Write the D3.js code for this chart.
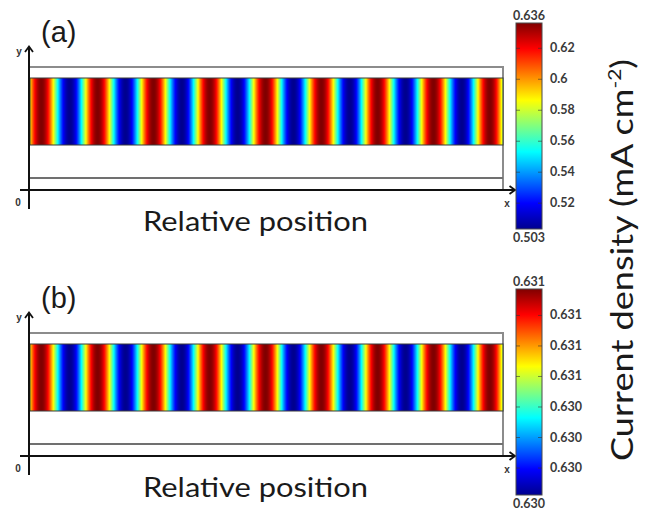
<!DOCTYPE html>
<html><head><meta charset="utf-8">
<script src="https://cdn.jsdelivr.net/npm/d3@7"></script>
<style>body{margin:0;background:#fff} svg{display:block}</style>
</head><body><svg id="chart" width="652" height="512"></svg>
<script>
// ---------------- data ----------------
const panelLabels = ["(a)", "(b)"];
// relative positions (0..1 along the strip) of current-density maxima and minima
const peakPositions   = [0.024, 0.143, 0.261, 0.380, 0.498, 0.616, 0.735, 0.853, 0.972];
const troughPositions = [-0.035, 0.084, 0.202, 0.321, 0.439, 0.557, 0.676, 0.794, 0.913, 1.031];
// colour-bar ranges (mA cm^-2)
const densityRangeA = [0.503, 0.636];
const densityRangeB = [0.62982, 0.63117];
const colorbarTicksA = [0.52, 0.54, 0.56, 0.58, 0.60, 0.62];
const colorbarTicksB = [0.6300, 0.6302, 0.6304, 0.6306, 0.6308, 0.6310];
const xAxisTitle = "Relative position";
const colorbarTitle = "Current density (mA cm";
const colorbarTitleSup = "-2";
// jet colour map stops
const jetStops  = [0, 0.125, 0.375, 0.625, 0.875, 1];
const jetColors = ["#00008f", "#0000ff", "#00ffff", "#ffff00", "#ff0000", "#800000"];

// ---------------- drawing ----------------
const svg = d3.select("#chart");
const jet = d3.scaleLinear().domain(jetStops).range(jetColors).interpolate(d3.interpolateRgb).clamp(true);

const extrema = peakPositions.map(p => ({p, v: 1}))
  .concat(troughPositions.map(p => ({p, v: 0})))
  .sort((a, b) => a.p - b.p);

function fracAt(p) {
  let i = 0;
  while (i < extrema.length - 2 && extrema[i + 1].p <= p) i++;
  const a = extrema[i], b = extrema[i + 1];
  const t = (p - a.p) / (b.p - a.p);
  return a.v + (b.v - a.v) * (1 - Math.cos(Math.PI * t)) / 2;
}

const defs = svg.append("defs");
const grad = defs.append("linearGradient").attr("id", "jetGrad")
  .attr("x1", 0).attr("y1", 1).attr("x2", 0).attr("y2", 0);
grad.selectAll("stop").data(jetStops).join("stop")
  .attr("offset", d => d).attr("stop-color", (d, i) => jetColors[i]);

const x = d3.scaleLinear().domain([0, 1]).range([30, 503]);

function drawPanel(idx, range, ticks, fmtTick, dy) {
  const g = svg.append("g").attr("transform", `translate(0,${dy})`);
  const val = d3.scaleLinear().domain([0, 1]).range(range);
  const colorScale = d3.scaleLinear().domain(range).range([0, 1]);

  // geometry outline
  g.append("path").attr("d", `M${x(0)},67 H${x(1)} V190`)
    .attr("fill", "none").attr("stroke", "#8c8c8c").attr("stroke-width", 2);
  g.append("line").attr("x1", x(0)).attr("x2", x(1)).attr("y1", 178).attr("y2", 178)
    .attr("stroke", "#707070").attr("stroke-width", 2);

  // coloured strip
  const cols = d3.range(Math.round(x(1) - x(0)));
  const n = cols.length;
  g.append("g").attr("shape-rendering", "crispEdges").selectAll("rect").data(cols).join("rect")
    .attr("x", i => x(0) + i).attr("y", 78).attr("width", 1.2).attr("height", 67)
    .attr("fill", i => jet(colorScale(val(fracAt((i + 0.5) / n)))));
  g.append("rect").attr("x", x(0)).attr("y", 78).attr("width", x(1) - x(0)).attr("height", 67)
    .attr("fill", "none").attr("stroke", "#3a3a3a").attr("stroke-width", 1);

  // axes
  g.append("line").attr("x1", 29).attr("x2", 29).attr("y1", 47).attr("y2", 209)
    .attr("stroke", "#111").attr("stroke-width", 2);
  g.append("path").attr("d", "M25,52 L29,46.5 L33,52").attr("fill", "none")
    .attr("stroke", "#111").attr("stroke-width", 1.8);
  g.append("line").attr("x1", 20).attr("x2", 515).attr("y1", 190).attr("y2", 190)
    .attr("stroke", "#111").attr("stroke-width", 2);
  g.append("path").attr("d", "M509.5,186 L515,190 L509.5,194").attr("fill", "none")
    .attr("stroke", "#111").attr("stroke-width", 1.8);
  const small = {"font-family": "Liberation Sans, Arial, sans-serif", "font-size": "10px", "font-weight": "bold", "fill": "#333"};
  [["y", 19, 55], ["0", 18, 206], ["x", 507, 207]].forEach(([t, tx, ty]) => {
    const s = g.append("text").attr("x", tx).attr("y", ty).attr("text-anchor", "middle").text(t);
    Object.entries(small).forEach(([k, v]) => s.style(k, v));
  });

  // panel label
  g.append("text").attr("x", 41).attr("y", 42).text(panelLabels[idx])
    .style("font-family", "Liberation Sans, Arial, sans-serif").style("font-size", "29px").style("fill", "#1a1a1a");

  // x title
  g.append("text").attr("x", 255.5).attr("y", 231).attr("text-anchor", "middle")
    .attr("textLength", 225).attr("lengthAdjust", "spacingAndGlyphs")
    .text(xAxisTitle)
    .style("font-family", "Lato, 'Open Sans', sans-serif").style("font-size", "26px").style("fill", "#1a1a1a");

  // colour bar
  const cb = d3.scaleLinear().domain(range).range([229, 23]);
  g.append("rect").attr("x", 516).attr("y", 23).attr("width", 26).attr("height", 206)
    .attr("fill", "url(#jetGrad)").attr("stroke", "#4a4a4a").attr("stroke-width", 1);
  const axR = g.append("g").attr("transform", "translate(542,0)")
    .call(d3.axisRight(cb).tickValues(ticks).tickSizeInner(-4).tickSizeOuter(0).tickPadding(8).tickFormat(fmtTick));
  axR.select(".domain").remove();
  axR.selectAll(".tick line").attr("stroke", "#333").attr("stroke-opacity", 0.6);
  axR.selectAll(".tick text").style("font-family", "Lato, 'Open Sans', sans-serif")
    .style("font-size", "12.5px").style("font-weight", "bold").style("fill", "#3a3a3a");
  const axL = g.append("g").attr("transform", "translate(516,0)")
    .call(d3.axisLeft(cb).tickValues(ticks).tickSizeInner(-4).tickSizeOuter(0).tickFormat(""));
  axL.select(".domain").remove();
  axL.selectAll(".tick line").attr("stroke", "#333").attr("stroke-opacity", 0.6);
  const f3 = d3.format(".3f");
  [[range[1], 19.5], [range[0], 242]].forEach(([v, ty]) => {
    g.append("text").attr("x", 529).attr("y", ty).attr("text-anchor", "middle").text(f3(v))
      .style("font-family", "Lato, 'Open Sans', sans-serif").style("font-size", "12.5px")
      .style("font-weight", "bold").style("fill", "#3a3a3a");
  });
}

drawPanel(0, densityRangeA, colorbarTicksA, d3.format(".2~f"), 0);
drawPanel(1, densityRangeB, colorbarTicksB, d3.format(".3f"), 266);

// colour-bar title
const tg = svg.append("g").attr("transform", "translate(633,260) rotate(-90)");
const t = tg.append("text").attr("text-anchor", "middle")
  .style("font-family", "Lato, 'Open Sans', sans-serif").style("font-size", "31px").style("fill", "#1a1a1a");
t.append("tspan").text(colorbarTitle);
t.append("tspan").attr("dy", -12).style("font-size", "18px").text(colorbarTitleSup);
t.append("tspan").attr("dy", 12).text(")");
const bw = t.node().getBBox().width;
t.attr("transform", `scale(${402 / bw},1)`);
</script></body></html>
